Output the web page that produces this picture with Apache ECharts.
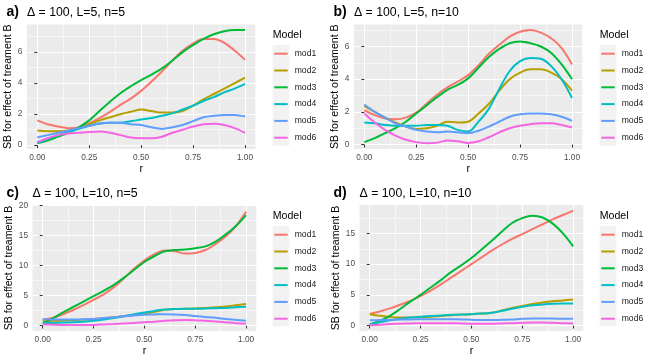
<!DOCTYPE html>
<html><head><meta charset="utf-8">
<script src="https://cdn.jsdelivr.net/npm/echarts@6/dist/echarts.min.js"></script>
<style>html,body{margin:0;padding:0;background:#fff}#c{width:654px;height:363px}</style>
</head><body><div id="c"></div>
<script>
// ---------------- data ----------------
const r = [0,0.05,0.1,0.15,0.2,0.25,0.3,0.35,0.4,0.45,0.5,0.55,0.6,0.65,0.7,0.75,0.8,0.85,0.9,0.95,1];
const models = ['mod1','mod2','mod3','mod4','mod5','mod6'];
const panelTags = ['a)','b)','c)','d)'];
const panelTitles = ['\u0394 = 100, L=5, n=5','\u0394 = 100, L=5, n=10','\u0394 = 100, L=10, n=5','\u0394 = 100, L=10, n=10'];
const xTicks = [0,0.25,0.5,0.75,1];
const xTickLabels = ['0.00','0.25','0.50','0.75','1.00'];
const xMinor = [0.125,0.375,0.625,0.875];
const yTicksA = [0,2,4,6];
const yMinorA = [1,3,5,7];
const yTicksB = [0,2,4,6];
const yMinorB = [1,3,5,7];
const yTicksC = [0,5,10,15,20];
const yMinorC = [2.5,7.5,12.5,17.5];
const yTicksD = [0,5,10,15];
const yMinorD = [2.5,7.5,12.5,17.5];

// panel a) L=5, n=5
const a_mod1 = [1.6,1.35,1.2,1.1,1.15,1.4,1.75,2.15,2.6,3.0,3.5,4.1,4.75,5.45,6.1,6.55,6.85,6.85,6.6,6.1,5.5];
const a_mod2 = [0.95,0.9,0.9,0.95,1.1,1.35,1.6,1.8,2.0,2.15,2.3,2.2,2.1,2.1,2.2,2.55,2.95,3.3,3.65,4.0,4.35];
const a_mod3 = [0.12,0.3,0.55,0.8,1.15,1.6,2.2,2.8,3.35,3.8,4.2,4.55,4.95,5.45,6.0,6.45,6.85,7.15,7.35,7.42,7.42];
const a_mod4 = [0.15,0.4,0.65,0.85,1.05,1.25,1.4,1.45,1.45,1.55,1.65,1.75,1.9,2.05,2.3,2.55,2.85,3.1,3.4,3.65,3.95];
const a_mod5 = [0.5,0.65,0.8,0.95,1.1,1.25,1.4,1.45,1.45,1.35,1.3,1.15,1.05,1.15,1.3,1.55,1.8,1.9,1.95,1.95,1.85];
const a_mod6 = [0.2,0.45,0.65,0.75,0.8,0.85,0.88,0.8,0.65,0.5,0.45,0.45,0.55,0.8,1.0,1.2,1.35,1.38,1.3,1.1,0.8];
// panel b) L=5, n=10
const b_mod1 = [2.1,1.8,1.6,1.55,1.65,1.95,2.5,3.05,3.5,3.85,4.25,4.85,5.55,6.1,6.6,6.9,7.0,6.85,6.5,5.9,4.9];
const b_mod2 = [2.35,2.0,1.65,1.35,1.1,0.95,1.0,1.15,1.4,1.35,1.4,1.9,2.5,3.3,4.0,4.4,4.6,4.6,4.4,4.0,3.3];
const b_mod3 = [0.15,0.4,0.7,1.0,1.4,1.9,2.4,2.9,3.35,3.65,4.05,4.7,5.35,5.85,6.2,6.3,6.2,6.0,5.6,4.9,4.0];
const b_mod4 = [1.35,1.3,1.2,1.15,1.15,1.15,1.2,1.2,1.15,0.9,0.8,1.4,2.2,3.4,4.5,5.1,5.3,5.25,4.8,4.0,2.85];
const b_mod5 = [2.45,2.0,1.65,1.3,1.1,0.9,0.8,0.75,0.8,0.75,0.7,0.85,1.1,1.4,1.7,1.85,1.9,1.9,1.85,1.7,1.45];
const b_mod6 = [1.9,1.35,0.9,0.55,0.3,0.15,0.08,0.12,0.25,0.2,0.1,0.2,0.45,0.75,1.0,1.15,1.25,1.3,1.3,1.2,1.05];
// panel c) L=10, n=5
const c_mod1 = [1.0,1.3,1.9,2.6,3.4,4.3,5.2,6.4,7.9,9.5,10.9,11.9,12.5,12.4,12.0,12.1,12.6,13.6,14.9,16.6,19.0];
const c_mod2 = [0.75,0.8,0.85,0.9,1.0,1.1,1.25,1.4,1.6,1.8,2.0,2.3,2.65,2.75,2.8,2.85,2.95,3.05,3.2,3.4,3.6];
const c_mod3 = [0.3,1.2,2.2,3.1,4.0,4.9,5.8,6.8,8.0,9.3,10.6,11.6,12.4,12.6,12.7,12.9,13.2,14.0,15.2,16.6,18.4];
const c_mod4 = [0.4,0.45,0.5,0.55,0.65,0.8,1.0,1.25,1.55,1.9,2.2,2.45,2.7,2.75,2.8,2.8,2.85,2.9,2.95,3.05,3.15];
const c_mod5 = [1.0,1.0,1.0,1.0,1.05,1.1,1.25,1.4,1.55,1.7,1.8,1.85,1.9,1.85,1.75,1.6,1.45,1.3,1.1,0.95,0.8];
const c_mod6 = [0.2,0.15,0.1,0.1,0.1,0.12,0.18,0.25,0.35,0.45,0.55,0.65,0.8,0.9,0.95,0.9,0.8,0.7,0.55,0.4,0.3];
// panel d) L=10, n=10
const d_mod1 = [1.9,2.3,2.8,3.4,4.0,4.8,5.7,6.7,7.8,8.9,10.0,11.1,12.2,13.2,14.1,14.9,15.7,16.5,17.3,18.0,18.7];
const d_mod2 = [1.85,1.6,1.4,1.3,1.3,1.35,1.45,1.55,1.7,1.8,1.85,1.95,2.1,2.45,2.85,3.2,3.5,3.75,3.95,4.1,4.25];
const d_mod3 = [0.2,0.8,1.6,2.7,3.9,5.0,6.2,7.4,8.7,9.8,11.0,12.4,13.8,15.3,16.7,17.5,17.9,17.6,16.6,15.0,12.9];
const d_mod4 = [0.2,0.55,0.85,1.1,1.3,1.45,1.55,1.65,1.75,1.8,1.85,1.95,2.1,2.4,2.75,3.05,3.3,3.45,3.55,3.6,3.6];
const d_mod5 = [0.85,0.9,0.95,1.0,1.0,1.05,1.05,1.05,1.05,1.0,0.95,0.9,0.9,0.95,1.0,1.1,1.15,1.15,1.15,1.1,1.1];
const d_mod6 = [0.05,0.15,0.25,0.3,0.35,0.4,0.4,0.4,0.4,0.35,0.3,0.3,0.3,0.35,0.4,0.45,0.5,0.5,0.45,0.4,0.35];

// ---------------- styling / layout ----------------
const colors = ['#F8766D','#B79F00','#00BA38','#00BFC4','#619CFF','#F564E3'];
const FONT = '"Liberation Sans", Arial, Helvetica, sans-serif';
const panels = [
  {grid:{left:26.9, top:24.4, width:228.5, height:124.6}, yMin:-0.245, yMax:7.785, yTicks:yTicksA, yMinor:yMinorA,
   data:[a_mod1,a_mod2,a_mod3,a_mod4,a_mod5,a_mod6], ox:0, oy:0},
  {grid:{left:353.9, top:24.4, width:228.5, height:124.6}, yMin:-0.27, yMax:7.35, yTicks:yTicksB, yMinor:yMinorB,
   data:[b_mod1,b_mod2,b_mod3,b_mod4,b_mod5,b_mod6], ox:327, oy:0},
  {grid:{left:32.5, top:205, width:223.8, height:126}, yMin:-0.9, yMax:20.1, yTicks:yTicksC, yMinor:yMinorC,
   data:[c_mod1,c_mod2,c_mod3,c_mod4,c_mod5,c_mod6], ox:0, oy:181},
  {grid:{left:359.5, top:205, width:223.8, height:126}, yMin:-0.88, yMax:19.63, yTicks:yTicksD, yMinor:yMinorD,
   data:[d_mod1,d_mod2,d_mod3,d_mod4,d_mod5,d_mod6], ox:327, oy:181}
];

const grid = [], xAxis = [], yAxis = [], series = [], legend = [], graphic = [];
panels.forEach((p, i) => {
  grid.push(Object.assign({show:true, backgroundColor:'#EBEBEB', borderWidth:0, containLabel:false, outerBoundsMode:'none'}, p.grid));
  const majorSplit = {show:true, lineStyle:{color:'#FFFFFF', width:1.1}};
  const minorSplit = {show:true, lineStyle:{color:'#FFFFFF', width:0.55}};
  xAxis.push({
    type:'value', gridIndex:i, position:'bottom', min:-0.05, max:1.05,
    axisLine:{show:false},
    axisTick:{show:true, length:3, customValues:xTicks, lineStyle:{color:'#333333', width:1}},
    axisLabel:{show:true, customValues:xTicks, margin:5, fontSize:8.3, color:'#4D4D4D', fontFamily:FONT,
      formatter: v => xTickLabels[xTicks.indexOf(v)]},
    splitLine:majorSplit,
    name:'r', nameLocation:'middle', nameGap:15,
    nameTextStyle:{fontSize:10.6, color:'#000', fontFamily:FONT}
  });
  xAxis.push({
    type:'value', gridIndex:i, position:'top', min:-0.05, max:1.05,
    axisLine:{show:false}, axisLabel:{show:false},
    axisTick:{show:false, customValues:xMinor},
    splitLine:minorSplit
  });
  yAxis.push({
    type:'value', gridIndex:i, position:'left', min:p.yMin, max:p.yMax,
    axisLine:{show:false},
    axisTick:{show:true, length:3, customValues:p.yTicks, lineStyle:{color:'#333333', width:1}},
    axisLabel:{show:true, customValues:p.yTicks, margin:4.5, fontSize:8.3, color:'#4D4D4D', fontFamily:FONT},
    splitLine:majorSplit,
    name:'SB for effect of treament B', nameLocation:'middle', nameGap: 9.8 + (p.grid.left - p.ox - 26.9),
    nameTextStyle:{fontSize:10.6, color:'#000', fontFamily:FONT}
  });
  yAxis.push({
    type:'value', gridIndex:i, position:'right', min:p.yMin, max:p.yMax,
    axisLine:{show:false}, axisLabel:{show:false},
    axisTick:{show:false, customValues:p.yMinor},
    splitLine:minorSplit
  });
  p.data.forEach((vals, k) => {
    series.push({
      type:'line', name:models[k], xAxisIndex:2*i, yAxisIndex:2*i,
      data: r.map((x, j) => [x, vals[j]]),
      smooth:0.35, symbol:'none', color:colors[k],
      lineStyle:{width:2, color:colors[k]}, silent:true, animation:false
    });
  });
  legend.push({
    data:models, orient:'vertical', left:274.3 + p.ox, top:47.7 + p.oy, padding:0,
    itemWidth:13.4, itemHeight:2, itemGap:4.8, icon:'rect',
    textStyle:{fontSize:8.6, color:'#1A1A1A', fontFamily:FONT, lineHeight:12, padding:[0,0,0,2]},
    selectedMode:false
  });
  graphic.push({type:'rect', left:272.7 + p.ox, top:45 + p.oy, shape:{width:16.6, height:100.5},
    style:{fill:'#F2F2F2'}, z:-1, silent:true});
  graphic.push({type:'text', left:272.7 + p.ox, top:29.5 + p.oy,
    style:{text:'Model', fontSize:10.6, fill:'#000', fontFamily:FONT}});
  graphic.push({type:'text', left:6.5 + p.ox, top:5.5 + p.oy,
    style:{text:panelTags[i], fontSize:14, fontWeight:'bold', fill:'#000', fontFamily:FONT}});
  graphic.push({type:'text', left:p.grid.left, top:6.5 + p.oy,
    style:{text:panelTitles[i], fontSize:12.3, fill:'#000', fontFamily:FONT}});
});

const chart = echarts.init(document.getElementById('c'), null, {renderer:'canvas'});
chart.setOption({
  backgroundColor:'#FFFFFF', animation:false,
  grid, xAxis, yAxis, series, legend, graphic
});
</script>
</body></html>
